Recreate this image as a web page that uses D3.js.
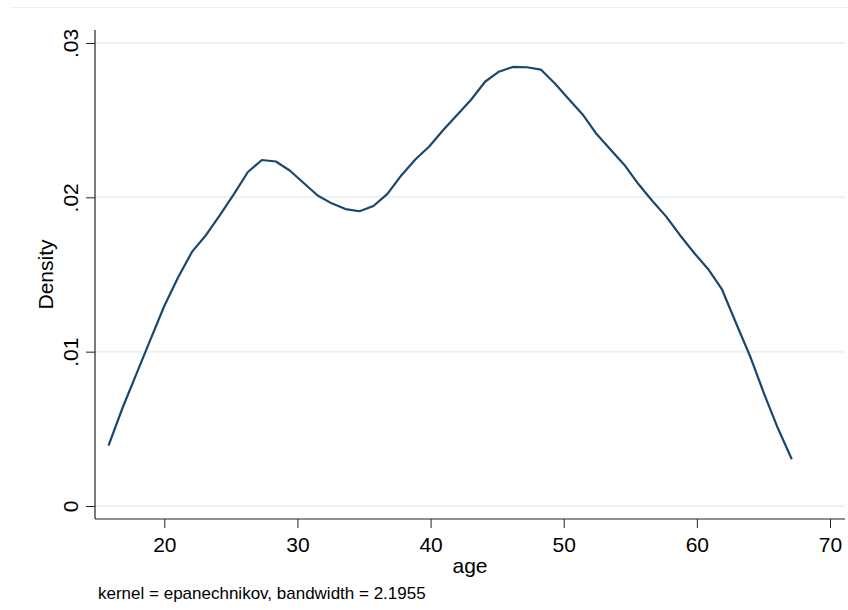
<!DOCTYPE html>
<html>
<head>
<meta charset="utf-8">
<script src="https://cdn.jsdelivr.net/npm/d3@7"></script>
<style>
  html, body { margin: 0; padding: 0; background: #fff; }
  svg { display: block; font-family: Arial, "Liberation Sans", Helvetica, sans-serif; }
</style>
</head>
<body>
<svg id="chart" width="848" height="610"></svg>
<script>
// Kernel density estimate of age (Epanechnikov kernel, 50 evaluation points)
const ages = [
  15.81, 16.86, 17.90, 18.95, 20.00, 21.05, 22.09, 23.14, 24.19, 25.24,
  26.28, 27.33, 28.38, 29.42, 30.47, 31.52, 32.57, 33.61, 34.66, 35.71,
  36.76, 37.80, 38.85, 39.90, 40.95, 41.99, 43.04, 44.09, 45.13, 46.18,
  47.23, 48.28, 49.32, 50.37, 51.42, 52.47, 53.51, 54.56, 55.61, 56.66,
  57.70, 58.75, 59.80, 60.84, 61.89, 62.94, 63.99, 65.03, 66.08, 67.13
];
const density = [
  0.00391, 0.00635, 0.00855, 0.01076, 0.01296, 0.01484, 0.01648, 0.01756, 0.01886, 0.02022,
  0.02164, 0.02242, 0.02232, 0.02174, 0.02093, 0.02012, 0.01961, 0.01924, 0.01910, 0.01944,
  0.02022, 0.02142, 0.02245, 0.02329, 0.02436, 0.02534, 0.02632, 0.02749, 0.02814, 0.02845,
  0.02843, 0.02828, 0.02739, 0.02637, 0.02537, 0.02410, 0.02310, 0.02210, 0.02086, 0.01976,
  0.01875, 0.01753, 0.01639, 0.01536, 0.01403, 0.01186, 0.00972, 0.00732, 0.00505, 0.00303
];
const xTicks = [20, 30, 40, 50, 60, 70];
const yTicks = [0, 0.01, 0.02, 0.03];
const yTickLabels = ["0", ".01", ".02", ".03"];
const xTitle = "age";
const yTitle = "Density";
const note = "kernel = epanechnikov, bandwidth = 2.1955";

const svg = d3.select("#chart");

// plot frame
const left = 95, right = 845, axisTop = 30, axisBottom = 519;
const x = d3.scaleLinear().domain([20, 70]).range([164.3, 830]);
const y = d3.scaleLinear().domain([0, 0.03]).range([506, 43]);

// faint outer region line
svg.append("line")
  .attr("x1", 10).attr("x2", 848).attr("y1", 7.5).attr("y2", 7.5)
  .attr("stroke", "#eef0f0").attr("stroke-width", 1.2);

// horizontal grid lines
svg.append("g").selectAll("line").data(yTicks).join("line")
  .attr("x1", left).attr("x2", right)
  .attr("y1", d => y(d)).attr("y2", d => y(d))
  .attr("stroke", "#eaf2f3").attr("stroke-width", 2);

// y axis
const yAxis = d3.axisLeft(y).tickValues(yTicks).tickSize(9)
  .tickFormat((d, i) => yTickLabels[i]);
const gy = svg.append("g").attr("transform", `translate(${left},0)`).call(yAxis);
gy.select(".domain").remove();
gy.selectAll(".tick line").attr("stroke", "#222").attr("stroke-width", 1);
gy.selectAll(".tick text")
  .attr("fill", "#000").attr("font-size", 21)
  .attr("text-anchor", "middle")
  .attr("x", null).attr("dy", null)
  .attr("transform", "translate(-17,0) rotate(-90)");
svg.append("line")
  .attr("x1", left).attr("x2", left).attr("y1", axisTop).attr("y2", axisBottom)
  .attr("stroke", "#222").attr("stroke-width", 1.2);

// x axis
const xAxis = d3.axisBottom(x).tickValues(xTicks).tickSize(9).tickFormat(d3.format("d"));
const gx = svg.append("g").attr("transform", `translate(0,${axisBottom})`).call(xAxis);
gx.select(".domain").remove();
gx.selectAll(".tick line").attr("stroke", "#222").attr("stroke-width", 1);
gx.selectAll(".tick text")
  .attr("fill", "#000").attr("font-size", 21)
  .attr("y", 33).attr("dy", null);
svg.append("line")
  .attr("x1", left).attr("x2", right).attr("y1", axisBottom).attr("y2", axisBottom)
  .attr("stroke", "#222").attr("stroke-width", 1.2);

// density curve
const line = d3.line().x((d, i) => x(ages[i])).y(d => y(d));
svg.append("path")
  .datum(density)
  .attr("d", line)
  .attr("fill", "none")
  .attr("stroke", "#1a476f")
  .attr("stroke-width", 2.2)
  .attr("stroke-linejoin", "round");

// titles
svg.append("text")
  .attr("x", (left + right) / 2).attr("y", 573)
  .attr("text-anchor", "middle").attr("font-size", 21).attr("fill", "#000")
  .text(xTitle);
svg.append("text")
  .attr("transform", `translate(53,${(axisTop + axisBottom) / 2}) rotate(-90)`)
  .attr("text-anchor", "middle").attr("font-size", 21).attr("fill", "#000")
  .text(yTitle);

// note
svg.append("text")
  .attr("x", 98).attr("y", 599)
  .attr("font-size", 17).attr("fill", "#000")
  .text(note);
</script>
</body>
</html>
